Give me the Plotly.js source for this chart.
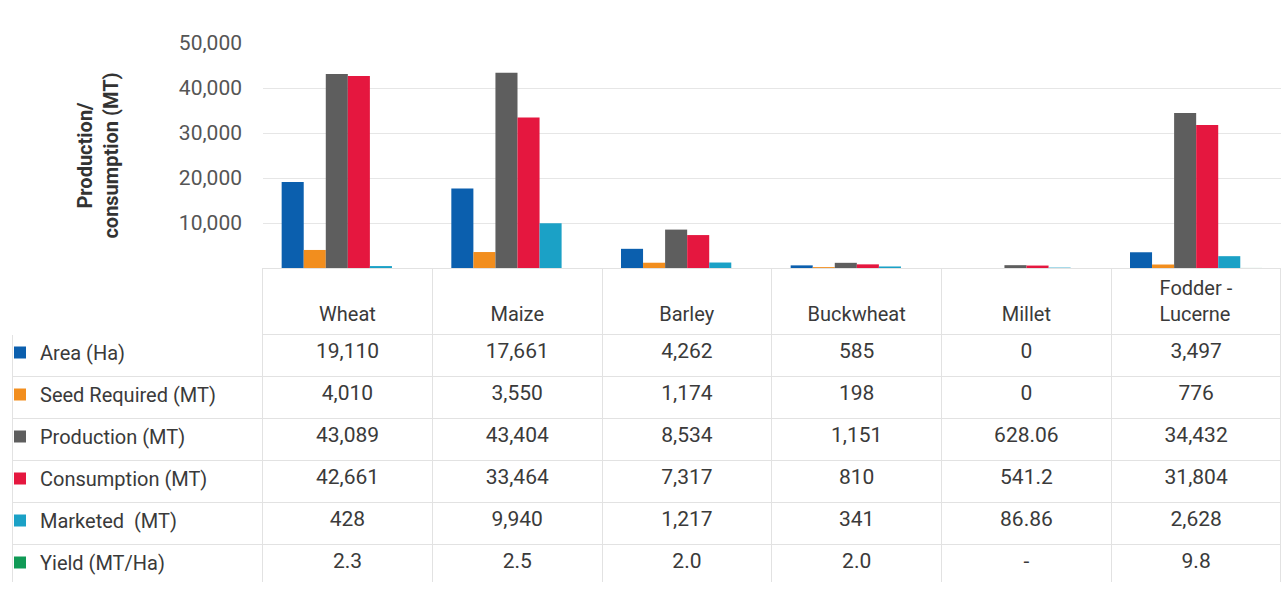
<!DOCTYPE html>
<html>
<head>
<meta charset="utf-8">
<script src="https://cdn.plot.ly/plotly-3.0.1.min.js"></script>
<style>html,body{margin:0;padding:0;background:#fff;}#chart{width:1281px;height:592px;}</style>
</head>
<body>
<div id="chart"></div>
<script>
const crops = ["Wheat", "Maize", "Barley", "Buckwheat", "Millet", "Fodder - Lucerne"];
const cropHeaders = ["\u00a0<br>Wheat", "\u00a0<br>Maize", "\u00a0<br>Barley", "\u00a0<br>Buckwheat", "\u00a0<br>Millet", "Fodder -<br>Lucerne"];
const seriesNames = ["Area (Ha)", "Seed Required (MT)", "Production (MT)", "Consumption (MT)", "Marketed  (MT)", "Yield (MT/Ha)"];
const seriesColors = ["#0b5fae", "#f28e1e", "#5e5e5e", "#e5173f", "#1ba1c6", "#109a56"];

const area        = [19110, 17661, 4262, 585, 0, 3497];
const seed        = [4010, 3550, 1174, 198, 0, 776];
const production  = [43089, 43404, 8534, 1151, 628.06, 34432];
const consumption = [42661, 33464, 7317, 810, 541.2, 31804];
const marketed    = [428, 9940, 1217, 341, 86.86, 2628];
const yieldVals   = [2.3, 2.5, 2.0, 2.0, null, 9.8];

const yTickVals = [0, 10000, 20000, 30000, 40000, 50000];
const yTickText = ["-\u00a0\u00a0\u00a0\u00a0", "10,000", "20,000", "30,000", "40,000", "50,000"];

const series = [area, seed, production, consumption, marketed, yieldVals];

function fmt(v, isYield) {
  if (v === null || v === undefined) return "-";
  if (isYield) return v.toFixed(1);
  return v.toLocaleString("en-US", {maximumFractionDigits: 2});
}

const FONT = "Roboto, sans-serif";
const TXT = "#3a3a3a";

const traces = series.map((vals, i) => ({
  type: "bar",
  name: seriesNames[i],
  legendgroup: "g" + i,
  x: crops,
  y: vals,
  marker: {color: seriesColors[i]},
  xaxis: "x",
  yaxis: "y",
  hoverinfo: "x+y+name"
}));

const labelCol = seriesNames.map(() => "");
const dataCols = crops.map((c, ci) => series.map((vals, si) => fmt(vals[ci], si === 5)));

traces.push({
  type: "table",
  domain: {x: [12/1281, 1], y: [9/592, 324/592]},
  columnwidth: [251, 170, 170, 170, 170, 170, 170],
  header: {
    values: [""].concat(cropHeaders),
    align: "center",
    height: 62,
    font: {family: FONT, size: 20, color: TXT},
    fill: {color: "#ffffff"},
    line: {color: ["#ffffff", "#e2e2e2", "#e2e2e2", "#e2e2e2", "#e2e2e2", "#e2e2e2", "#e2e2e2"], width: 1}
  },
  cells: {
    values: [labelCol].concat(dataCols),
    align: ["left", "center", "center", "center", "center", "center", "center"],
    height: 42,
    font: {family: FONT, size: 21, color: TXT},
    fill: {color: "#ffffff"},
    line: {color: "#e2e2e2", width: 1}
  }
});

const layout = {
  width: 1281,
  height: 592,
  margin: {l: 0, r: 0, t: 0, b: 0},
  paper_bgcolor: "#ffffff",
  plot_bgcolor: "#ffffff",
  showlegend: true,
  legend: {
    x: 0, xanchor: "left",
    y: 259/592, yanchor: "top",
    bgcolor: "rgba(0,0,0,0)",
    borderwidth: 0,
    font: {family: FONT, size: 20, color: TXT},
    tracegroupgap: 13,
    traceorder: "grouped",
    itemclick: false
  },
  barmode: "group",
  bargap: 0.22,
  bargroupgap: 0,
  xaxis: {
    domain: [263/1281, 1],
    anchor: "y",
    showticklabels: false,
    showgrid: false,
    zeroline: false,
    ticks: ""
  },
  yaxis: {
    domain: [324/592, 549/592],
    anchor: "x",
    range: [0, 50000],
    tickvals: yTickVals,
    ticktext: yTickText,
    tickfont: {family: FONT, size: 21, color: "#555555"},
    ticklabelstandoff: 20,
    showgrid: true,
    gridcolor: "#e6e6e6",
    zeroline: true,
    zerolinecolor: "#e2e2e2",
    title: {
      text: "Production/<br>consumption (MT)",
      font: {family: FONT, size: 20, color: "#333333", weight: "bold"},
      standoff: 54
    }
  }
};

Plotly.newPlot("chart", traces, layout, {displayModeBar: false, staticPlot: true});
</script>
</body>
</html>
